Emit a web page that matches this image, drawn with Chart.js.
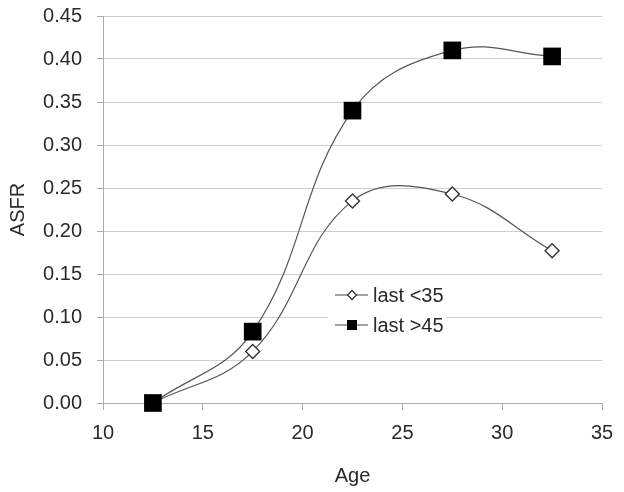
<!DOCTYPE html>
<html>
<head>
<meta charset="utf-8">
<script src="https://cdn.jsdelivr.net/npm/chart.js@4.4.1/dist/chart.umd.min.js"></script>
<style>
  html, body { margin: 0; padding: 0; background: #fff; }
  #wrap { width: 624px; height: 492px; }
</style>
</head>
<body>
<div id="wrap"><canvas id="asfrChart" width="624" height="492"></canvas></div>
<script>
// data
const ages = [12.5, 17.5, 22.5, 27.5, 32.5];
const lastUnder35 = [0, 0.06, 0.235, 0.243, 0.177];
const lastOver45 = [0, 0.083, 0.34, 0.41, 0.403];
const seriesNames = ['last <35', 'last >45'];
const xTicks = [10, 15, 20, 25, 30, 35];
const yTicks = [0, 0.05, 0.1, 0.15, 0.2, 0.25, 0.3, 0.35, 0.4, 0.45];

const FONT = '"Liberation Sans", Arial, sans-serif';
const TEXT = '#2a2a2a';

const toPoints = vals => ages.map((a, i) => ({ x: a, y: vals[i] }));

// legend sits inside the plot, like the Excel original
const boxLegend = {
  id: 'boxLegend',
  afterDraw(chart) {
    const ctx = chart.ctx;
    ctx.save();
    ctx.fillStyle = '#fff';
    ctx.fillRect(328, 281, 118, 56);
    const rows = [
      { label: seriesNames[0], y: 295, kind: 'diamond' },
      { label: seriesNames[1], y: 325, kind: 'square' }
    ];
    rows.forEach(r => {
      ctx.strokeStyle = '#444';
      ctx.lineWidth = 1.2;
      ctx.beginPath();
      ctx.moveTo(335, r.y);
      ctx.lineTo(368, r.y);
      ctx.stroke();
      const cx = 352;
      if (r.kind === 'diamond') {
        ctx.fillStyle = '#fff';
        ctx.strokeStyle = '#333';
        ctx.lineWidth = 1.3;
        ctx.beginPath();
        ctx.moveTo(cx, r.y - 4.5);
        ctx.lineTo(cx + 4.5, r.y);
        ctx.lineTo(cx, r.y + 4.5);
        ctx.lineTo(cx - 4.5, r.y);
        ctx.closePath();
        ctx.fill();
        ctx.stroke();
      } else {
        ctx.fillStyle = '#000';
        ctx.fillRect(cx - 5, r.y - 5, 10, 10);
      }
      ctx.fillStyle = TEXT;
      ctx.font = '20px ' + FONT;
      ctx.textAlign = 'left';
      ctx.textBaseline = 'middle';
      ctx.fillText(r.label, 373, r.y + 1);
    });
    ctx.restore();
  }
};

new Chart(document.getElementById('asfrChart'), {
  type: 'line',
  data: {
    datasets: [
      {
        label: seriesNames[0],
        data: toPoints(lastUnder35),
        borderColor: '#555',
        borderWidth: 1.2,
        tension: 0.4,
        clip: false,
        pointStyle: 'rectRot',
        pointRadius: 7,
        pointBackgroundColor: '#fff',
        pointBorderColor: '#333',
        pointBorderWidth: 1.4,
        order: 1
      },
      {
        label: seriesNames[1],
        data: toPoints(lastOver45),
        borderColor: '#555',
        borderWidth: 1.2,
        tension: 0.4,
        clip: false,
        pointStyle: 'rect',
        pointRadius: 12.5,
        pointBackgroundColor: '#000',
        pointBorderColor: '#000',
        pointBorderWidth: 0,
        order: 0
      }
    ]
  },
  options: {
    responsive: false,
    animation: false,
    events: [],
    layout: { padding: { top: 16, right: 22, left: 0, bottom: 0 } },
    plugins: { legend: { display: false }, tooltip: { enabled: false } },
    scales: {
      x: {
        type: 'linear',
        min: 10,
        max: 35,
        afterBuildTicks: s => { s.ticks = xTicks.map(v => ({ value: v })); },
        afterFit: s => { s.height = 89; s.paddingLeft = 0; s.paddingRight = 0; },
        grid: { drawOnChartArea: false, drawTicks: true, tickLength: 7, color: '#aaa' },
        border: { color: '#aaa', width: 1 },
        ticks: { color: TEXT, font: { family: FONT, size: 20 }, padding: 11, maxRotation: 0 },
        title: { display: true, text: 'Age', color: TEXT, font: { family: FONT, size: 20 }, padding: { top: 4 } }
      },
      y: {
        min: 0,
        max: 0.45,
        afterBuildTicks: s => { s.ticks = yTicks.map(v => ({ value: v })); },
        afterFit: s => { s.width = 103; s.paddingTop = 0; s.paddingBottom = 0; },
        grid: { color: '#cfcfcf', lineWidth: 1, tickLength: 6, tickColor: '#aaa' },
        border: { color: '#aaa', width: 1 },
        ticks: { color: TEXT, font: { family: FONT, size: 20 }, padding: 15, callback: v => v.toFixed(2) },
        title: { display: true, text: 'ASFR', color: TEXT, font: { family: FONT, size: 20 }, padding: { top: 6, bottom: 4 } }
      }
    }
  },
  plugins: [boxLegend]
});
</script>
</body>
</html>
